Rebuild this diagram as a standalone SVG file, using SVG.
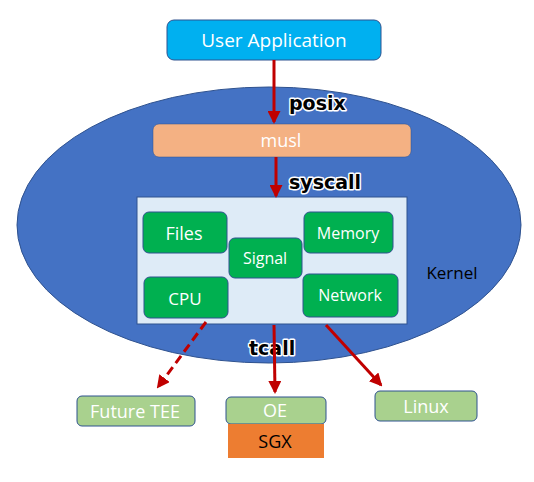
<svg xmlns="http://www.w3.org/2000/svg" width="534" height="482" viewBox="0 0 534 482">
<style>
.t{font-family:"Open Sans","Liberation Sans",sans-serif;fill:#fff;text-anchor:middle;dominant-baseline:central}
.lab{font-family:"DejaVu Sans","Liberation Sans",sans-serif;font-weight:bold;font-size:19px;fill:#000;stroke:#fff;stroke-width:3;paint-order:stroke;stroke-linejoin:round}
.g{fill:#00B050;stroke:#2F528F;stroke-width:1}
.lg{fill:#A9D18E;stroke:#2F528F;stroke-width:1}
.ar{stroke:#C00000;stroke-width:3;fill:none}
</style>
<defs>
<marker id="ah" markerWidth="13" markerHeight="13" refX="11" refY="6.5" orient="auto" markerUnits="userSpaceOnUse" viewBox="0 0 13 13">
<path d="M0,0 L13,6.5 L0,13 z" fill="#C00000"/>
</marker>
</defs>
<g id="kernel">
<ellipse cx="269" cy="225" rx="252" ry="138" fill="#4472C4" stroke="#2F528F" stroke-width="1"/>
<text class="t" x="452" y="272" style="fill:#000;font-size:17px">Kernel</text>
</g>
<g id="labels">
<text class="lab" x="289" y="110">posix</text>
<text class="lab" x="289" y="189">syscall</text>
<text class="lab" x="249" y="355">tcall</text>
</g>
<g id="user-app">
<rect x="167" y="20" width="214" height="40" rx="7" fill="#00B0F0" stroke="#2F528F"/>
<text class="t" x="274" y="40" style="font-size:19px">User Application</text>
</g>
<g id="musl">
<rect x="153" y="124" width="258" height="33" rx="6" fill="#F4B183" stroke="#2F528F" stroke-width="0.5"/>
<text class="t" x="281" y="140" style="font-size:18px">musl</text>
</g>
<g id="kernel-box">
<rect x="137" y="197" width="270" height="127" fill="#DEEBF7" stroke="#2F528F"/>
</g>
<g id="files">
<rect class="g" x="143" y="212" width="84" height="41" rx="6"/>
<text class="t" x="184" y="233" style="font-size:18px">Files</text>
</g>
<g id="signal">
<rect class="g" x="229" y="238" width="73" height="40" rx="6"/>
<text class="t" x="265" y="258" style="font-size:16px">Signal</text>
</g>
<g id="memory">
<rect class="g" x="304" y="212" width="89" height="41" rx="6"/>
<text class="t" x="348" y="233" style="font-size:16px">Memory</text>
</g>
<g id="cpu">
<rect class="g" x="144" y="277" width="84" height="41" rx="6"/>
<text class="t" x="185" y="298" style="font-size:17px">CPU</text>
</g>
<g id="network">
<rect class="g" x="303" y="274" width="95" height="43" rx="6"/>
<text class="t" x="350" y="295" style="font-size:16px">Network</text>
</g>
<g id="future-tee">
<rect class="lg" x="77" y="396" width="118" height="30" rx="5"/>
<text class="t" x="135" y="411" style="font-size:18px">Future TEE</text>
</g>
<g id="oe">
<rect class="lg" x="226" y="397" width="100" height="27" rx="5"/>
<text class="t" x="275" y="410" style="font-size:18px">OE</text>
</g>
<g id="sgx">
<rect x="228" y="424" width="96" height="34" fill="#ED7D31"/>
<text class="t" x="275" y="441" style="font-size:18px;fill:#000">SGX</text>
</g>
<g id="linux">
<rect class="lg" x="375" y="391" width="102" height="30" rx="5"/>
<text class="t" x="426" y="406" style="font-size:18px">Linux</text>
</g>
<g id="connectors">
<line class="ar" x1="274" y1="60" x2="274" y2="122" marker-end="url(#ah)"/>
<line class="ar" x1="276" y1="157" x2="276" y2="196" marker-end="url(#ah)"/>
<line class="ar" x1="274" y1="325" x2="275" y2="392" marker-end="url(#ah)"/>
<line class="ar" x1="326" y1="325" x2="381" y2="385" marker-end="url(#ah)"/>
<line class="ar" x1="206" y1="322" x2="158" y2="387" stroke-dasharray="9,5" marker-end="url(#ah)"/>
</g>
</svg>
